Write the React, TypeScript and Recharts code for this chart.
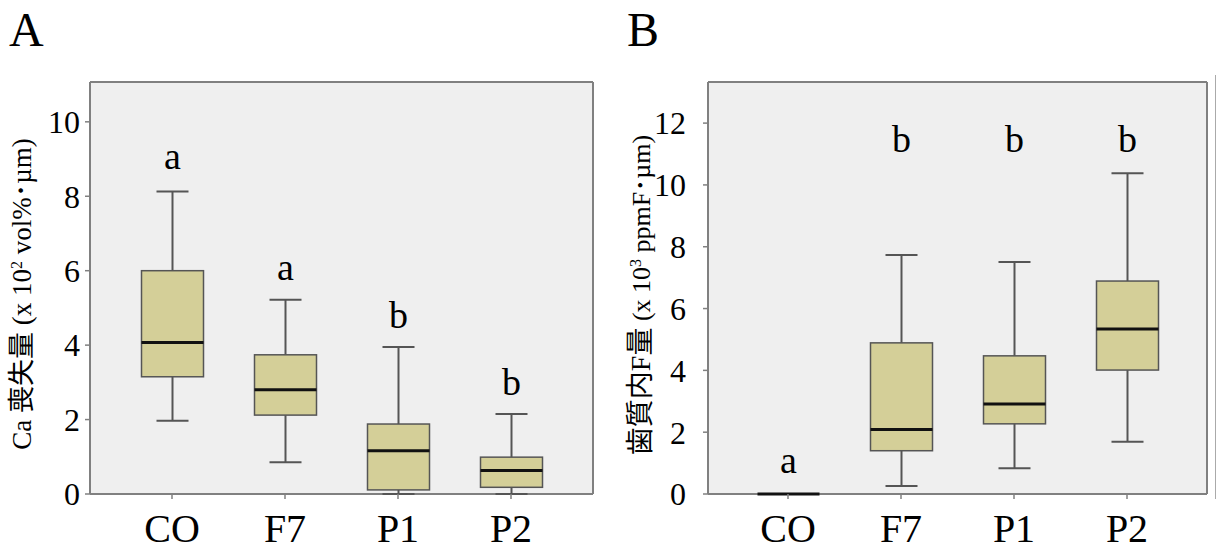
import React from "react";
import { ComposedChart, Bar, XAxis, YAxis, CartesianGrid } from "recharts";

const SERIF = "'Liberation Serif', 'Times New Roman', serif";
const MIXED = "'Liberation Serif', 'Noto Sans CJK JP', serif";

const groups = ["CO", "F7", "P1", "P2"];

// panel A: Ca 喪失量 (x 10^2 vol%・µm)
const caMin = [1.97, 0.85, 0, 0];
const caQ1 = [3.15, 2.12, 0.11, 0.18];
const caMedian = [4.07, 2.8, 1.16, 0.63];
const caQ3 = [6.0, 3.74, 1.88, 0.99];
const caMax = [8.13, 5.22, 3.95, 2.15];
const caLetters = ["a", "a", "b", "b"];
const caLetterY = [8.74, 5.75, 4.46, 2.66];
const caTicks = [0, 2, 4, 6, 8, 10];
const caTop = 11.07;

// panel B: 歯質内F量 (x 10^3 ppmF・µm)
const fMin = [0, 0.26, 0.83, 1.69];
const fQ1 = [0, 1.4, 2.27, 4.01];
const fMedian = [0, 2.09, 2.91, 5.34];
const fQ3 = [0, 4.89, 4.47, 6.89];
const fMax = [0, 7.73, 7.51, 10.38];
const fLetters = ["a", "b", "b", "b"];
const fLetterY = [0.68, 11.07, 11.07, 11.07];
const fTicks = [0, 2, 4, 6, 8, 10, 12];
const fTop = 13.33;

const buildRows = (mn: number[], q1: number[], md: number[], q3: number[], mx: number[], lt: string[], ly: number[]) =>
  groups.map((name, i) => ({
    name,
    min: mn[i],
    q1: q1[i],
    median: md[i],
    q3: q3[i],
    max: mx[i],
    letter: lt[i],
    letterY: ly[i],
  }));

const caRows = buildRows(caMin, caQ1, caMedian, caQ3, caMax, caLetters, caLetterY);
const fRows = buildRows(fMin, fQ1, fMedian, fQ3, fMax, fLetters, fLetterY);

// bar spans [0, top] so its pixel box gives us the y scale
const makeBox = (top: number) => (props: any) => {
  const { x, y, width, height, payload } = props;
  const k = height / top;
  const base = y + height;
  const py = (v: number) => base - v * k;
  const cx = x + width / 2;
  const cap = 16;
  const yMin = py(payload.min);
  const yQ1 = py(payload.q1);
  const yMed = py(payload.median);
  const yQ3 = py(payload.q3);
  const yMax = py(payload.max);
  const flat = payload.q3 === payload.q1;
  return (
    <g>
      <line x1={cx} x2={cx} y1={yQ1} y2={yMin} stroke="#555" strokeWidth={2} />
      <line x1={cx} x2={cx} y1={yQ3} y2={yMax} stroke="#555" strokeWidth={2} />
      {!flat && <line x1={cx - cap} x2={cx + cap} y1={yMin} y2={yMin} stroke="#555" strokeWidth={2} />}
      {!flat && <line x1={cx - cap} x2={cx + cap} y1={yMax} y2={yMax} stroke="#555" strokeWidth={2} />}
      {!flat && <rect x={x} y={yQ3} width={width} height={yQ1 - yQ3} fill="#d4cf98" stroke="#555" strokeWidth={1.5} />}
      <line x1={x} x2={x + width} y1={yMed} y2={yMed} stroke="#111" strokeWidth={3} />
      <text x={cx} y={py(payload.letterY)} textAnchor="middle" fontFamily={SERIF} fontSize={38} fill="#000">
        {payload.letter}
      </text>
    </g>
  );
};

// frame of the plot area, drawn by the grid so it sits under the boxes
const frameH = ({ offset }: any) => [offset.top, offset.top + offset.height];
const frameV = ({ offset }: any) => [offset.left, offset.left + offset.width];

const BoxPanel = ({ rows, top, ticks, width, right, pad, yMargin }: any) => (
  <ComposedChart width={width} height={551} data={rows} margin={{ top: 82, right, bottom: 0, left: 0 }}>
    <CartesianGrid
      fill="#efefef"
      stroke="#808080"
      strokeWidth={2}
      horizontalCoordinatesGenerator={frameH}
      verticalCoordinatesGenerator={frameV}
    />
    <XAxis
      dataKey="name"
      height={57}
      padding={{ left: pad, right: pad }}
      tickSize={5}
      tickMargin={15}
      tick={{ fontSize: 40, fill: "#000", fontFamily: SERIF }}
      tickLine={{ stroke: "#808080", strokeWidth: 1.5 }}
      axisLine={false}
    />
    <YAxis
      width={90}
      domain={[0, top]}
      ticks={ticks}
      type="number"
      tickSize={5}
      tickMargin={yMargin}
      tick={{ fontSize: 32, fill: "#000", fontFamily: SERIF }}
      tickLine={{ stroke: "#808080", strokeWidth: 1.5 }}
      axisLine={false}
    />
    <Bar dataKey={() => [0, top]} barSize={62} shape={makeBox(top)} isAnimationActive={false} />
  </ComposedChart>
);

export default function App() {
  return (
    <div style={{ position: "relative", width: 1216, height: 551, overflow: "hidden", background: "#fff" }}>
      <style>{"body{margin:0}"}</style>
      <div style={{ position: "absolute", left: 0, top: 0 }}>
        <BoxPanel rows={caRows} top={caTop} ticks={caTicks} width={600} right={7} pad={25.5} yMargin={5} />
      </div>
      <div style={{ position: "absolute", left: 618, top: 0 }}>
        <BoxPanel rows={fRows} top={fTop} ticks={fTicks} width={598} right={9} pad={23.5} yMargin={17} />
      </div>
      <svg width={1216} height={551} style={{ position: "absolute", left: 0, top: 0, pointerEvents: "none" }}>
        <text x={9} y={46} fontFamily={SERIF} fontSize={48} fill="#000">A</text>
        <text x={627} y={46} fontFamily={SERIF} fontSize={48} fill="#000">B</text>
        <text transform="translate(31,294) rotate(-90)" textAnchor="middle" fontFamily={MIXED} fontSize={27} fill="#000">
          Ca 喪失量 (x 10<tspan dy={-9} fontSize={16}>2</tspan>
          <tspan dy={9}> vol%･µm)</tspan>
        </text>
        <text transform="translate(650,295) rotate(-90)" textAnchor="middle" fontFamily={MIXED} fontSize={26} fill="#000">
          <tspan fontSize={28}>歯質内F量</tspan> (x 10<tspan dy={-9} fontSize={16}>3</tspan>
          <tspan dy={9}> ppmF･µm)</tspan>
        </text>
        <line x1={1215.5} x2={1215.5} y1={75} y2={499} stroke="#aaa" strokeWidth={1} />
      </svg>
    </div>
  );
}
